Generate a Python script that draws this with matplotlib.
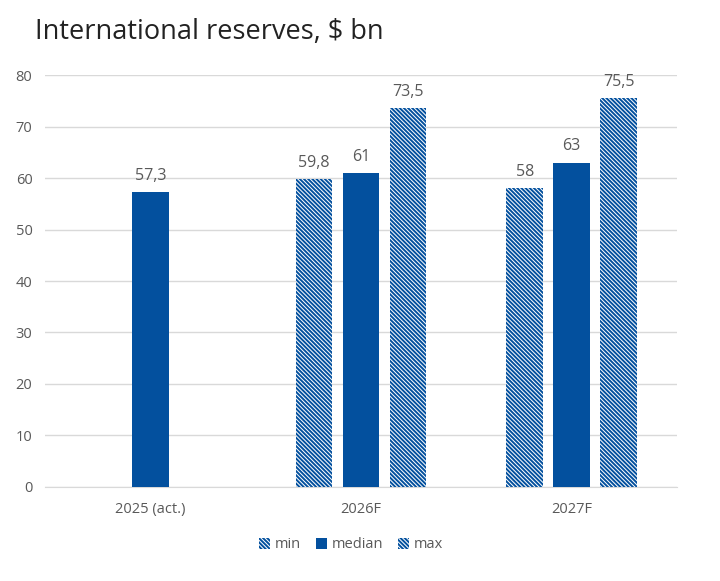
import matplotlib.pyplot as plt
import numpy as np

plt.rcParams['font.family'] = ['Open Sans', 'DejaVu Sans']
plt.rcParams['hatch.linewidth'] = 1.4

categories = ['2025 (act.)', '2026F', '2027F']
series = ['min', 'median', 'max']
min_vals = [np.nan, 59.8, 58]
median_vals = [57.3, 61, 63]
max_vals = [np.nan, 73.5, 75.5]
yticks = [0, 10, 20, 30, 40, 50, 60, 70, 80]

blue = '#03509E'
grey = '#595959'

fig = plt.figure(figsize = (7.2, 5.81), dpi = 100)
ax = fig.add_axes([0.0625, 0.1618, 0.8778, 0.7091])

x = np.arange(len(categories))
w = 0.175
step = 0.223

def lab(v):
    return ('%g' % v).replace('.', ',')

for i, (name, vals) in enumerate(zip(series, [min_vals, median_vals, max_vals])):
    pos = x + (i - 1) * step
    if name == 'median':
        bars = ax.bar(pos, vals, w, color = blue, label = name, zorder = 3)
    else:
        bars = ax.bar(pos, vals, w, facecolor = 'white', edgecolor = blue,
                      linewidth = 0, hatch = '\\' * 8, label = name, zorder = 3)
    for p, v in zip(pos, vals):
        if not np.isnan(v):
            ax.text(p, v + 1.6, lab(v), ha = 'center', va = 'bottom',
                    fontsize = 11.5, color = grey)

ax.set_xlim(-0.5, 2.5)
ax.set_ylim(0, 80)
ax.set_yticks(yticks)
ax.set_xticks(x)
ax.set_xticklabels(categories)
ax.tick_params(axis = 'both', length = 0, labelsize = 10.5, labelcolor = grey)
ax.tick_params(axis = 'x', pad = 11)
ax.tick_params(axis = 'y', pad = 9)
ax.grid(axis = 'y', color = '#d9d9d9', linewidth = 1, zorder = 0)
for s in ['top', 'right', 'left']:
    ax.spines[s].set_visible(False)
ax.spines['bottom'].set_color('#d9d9d9')

fig.text(0.049, 0.945, 'International reserves, $ bn', fontsize = 19.5,
         color = '#222222', va = 'center')

ax.legend(loc = 'upper center', bbox_to_anchor = (0.484, -0.09), ncol = 3,
          frameon = False, fontsize = 10.5, handlelength = 0.8, handleheight = 0.8,
          handletextpad = 0.3, columnspacing = 1.0, labelcolor = grey)

plt.savefig('out.png', dpi = 100)
